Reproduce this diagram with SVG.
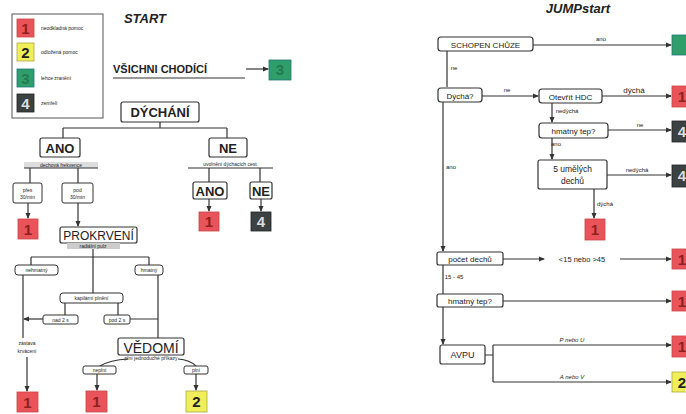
<svg xmlns="http://www.w3.org/2000/svg" width="686" height="414" viewBox="0 0 686 414">
<style>
text{font-family:"Liberation Sans",Arial,sans-serif;fill:#222}
.box{fill:#fff;stroke:#333;stroke-width:1.2}
.bx2{fill:#fff;stroke:#333;stroke-width:1}
.ln{fill:none;stroke:#333;stroke-width:1.2}
.arr{fill:none;stroke:#333;stroke-width:1.2;marker-end:url(#ah)}
.r{fill:#e8545a;stroke:#c44;stroke-width:0.8}
.y{fill:#f0ef5a;stroke:#aa4;stroke-width:0.8}
.g{fill:#2f9e6b;stroke:#277;stroke-width:0.8}
.d{fill:#3c4141;stroke:#222;stroke-width:0.8}
.n{font-size:15px;font-weight:bold;text-anchor:middle}
.nr{fill:#8e2020}
.ny{fill:#222}
.ng{fill:#237a50}
.nd{fill:#ddd}
.big{font-size:13px;font-weight:bold;text-anchor:middle}
.mid{font-size:7px;text-anchor:middle}
.sm{font-size:5px;text-anchor:middle}
.lg{font-size:5px}
.it{font-size:13px;font-style:italic;font-weight:bold;text-anchor:middle}
.lab{font-size:6px;text-anchor:middle}
</style>
<defs>
<marker id="ah" markerWidth="6" markerHeight="6" refX="5" refY="3" orient="auto" markerUnits="userSpaceOnUse">
<path d="M0,0.5 L6,3 L0,5.5 z" fill="#333"/>
</marker>
</defs>

<!-- Legend -->
<g id="legend">
<rect x="12" y="14" width="91" height="104" fill="#fff" stroke="#555" stroke-width="1"/>
<rect class="r" x="17" y="19" width="17" height="18"/><text class="n nr" x="25.5" y="34">1</text>
<text class="lg" x="41" y="30">neodkladná pomoc</text>
<rect class="y" x="17" y="43" width="17" height="18"/><text class="n ny" x="25.5" y="58">2</text>
<text class="lg" x="41" y="54">odložená pomoc</text>
<rect class="g" x="17" y="69" width="17" height="18"/><text class="n ng" x="25.5" y="84">3</text>
<text class="lg" x="41" y="80">lehce zranění</text>
<rect class="d" x="17" y="94" width="17" height="18"/><text class="n nd" x="25.5" y="109">4</text>
<text class="lg" x="41" y="105">zemřelí</text>
</g>

<g id="title-start"><text class="it" x="145" y="23">START</text></g>
<g id="title-jump"><text class="it" x="578" y="13">JUMPstart</text></g>

<!-- Connectors -->
<g id="connectors">
<!-- START -->
<line class="arr" x1="246" y1="69" x2="268" y2="69"/>
<path class="ln" d="M160,122 V128 M63,128 H227 M63,128 V138 M227,128 V138"/>
<path class="ln" d="M30,168 V183 M78,168 V183"/>
<line class="arr" x1="28" y1="203" x2="28" y2="218"/>
<line class="arr" x1="78" y1="203" x2="78" y2="226"/>
<path class="ln" d="M209,168 V182 M260,168 V182"/>
<line class="arr" x1="209" y1="199" x2="209" y2="211"/>
<line class="arr" x1="261" y1="199" x2="261" y2="211"/>
<path class="ln" d="M93,249 V293 M31,257 H149 M31,257 V265 M149,257 V265"/>
<path class="ln" d="M65,303 V315 M118,303 V315"/>
<path class="ln" d="M23,275 V338"/>
<line class="arr" x1="43" y1="319" x2="24" y2="319"/>
<path class="ln" d="M158,275 V338 M130,319 H158"/>
<line class="arr" x1="27" y1="357" x2="27" y2="391"/>
<path class="ln" d="M128,359 Q110,360 100,366 M178,359 Q190,360 196,366"/>
<line class="arr" x1="97" y1="374" x2="97" y2="390"/>
<line class="arr" x1="196" y1="374" x2="196" y2="390"/>
<!-- JUMPstart -->
<line class="arr" x1="533" y1="45" x2="671" y2="45"/>
<line class="ln" x1="447" y1="50" x2="447" y2="87"/>
<line class="arr" x1="482" y1="96" x2="538" y2="96"/>
<line class="arr" x1="602" y1="96" x2="671" y2="96"/>
<line class="arr" x1="552" y1="103" x2="552" y2="122"/>
<line class="arr" x1="608" y1="130" x2="671" y2="130"/>
<line class="arr" x1="552" y1="138" x2="552" y2="159"/>
<line class="arr" x1="607" y1="175" x2="671" y2="175"/>
<line class="arr" x1="594" y1="189" x2="594" y2="218"/>
<line class="arr" x1="443" y1="102" x2="443" y2="251"/>
<line class="arr" x1="503" y1="259" x2="544" y2="259"/>
<line class="arr" x1="620" y1="259" x2="671" y2="259"/>
<line class="ln" x1="443" y1="265" x2="443" y2="294"/>
<line class="arr" x1="503" y1="301" x2="671" y2="301"/>
<line class="arr" x1="443" y1="307" x2="443" y2="344"/>
<path class="ln" d="M485,355 H493 M493,345 V382"/>
<line class="arr" x1="493" y1="345" x2="671" y2="345"/>
<line class="arr" x1="493" y1="382" x2="671" y2="382"/>
</g>

<!-- START nodes -->
<g id="n-chodici">
<text x="113" y="73" font-size="11" font-weight="bold">VŠICHNI CHODÍCÍ</text>
<line class="ln" x1="113" y1="78" x2="245" y2="78"/>
</g>
<g id="n-green-top"><rect class="g" x="269" y="60" width="22" height="20"/><text class="n ng" x="280" y="75">3</text></g>
<g id="n-dychani"><rect class="box" x="121" y="102" width="78" height="20" rx="2"/><text class="big" x="160" y="117">DÝCHÁNÍ</text></g>
<g id="n-ano"><rect class="box" x="40" y="138" width="40" height="19" rx="2"/><text class="big" x="60" y="153">ANO</text></g>
<g id="n-frekvence"><rect x="24" y="162" width="74" height="6" fill="#ddd"/><text class="sm" x="61" y="167">dechová frekvence</text><line class="ln" x1="24" y1="168" x2="98" y2="168" stroke-width="0.8"/></g>
<g id="n-pres"><rect class="bx2" x="13" y="183" width="29" height="20" rx="2"/><text class="sm" x="27.5" y="192">přes</text><text class="sm" x="27.5" y="199">30/min</text></g>
<g id="n-pod"><rect class="bx2" x="62" y="183" width="31" height="20" rx="2"/><text class="sm" x="77.5" y="192">pod</text><text class="sm" x="77.5" y="199">30/min</text></g>
<g id="n-r1a"><rect class="r" x="18" y="219" width="20" height="20"/><text class="n nr" x="28" y="235">1</text></g>
<g id="n-ne"><rect class="box" x="209" y="138" width="38" height="19" rx="2"/><text class="big" x="228" y="153">NE</text></g>
<g id="n-uvolneni"><text class="sm" x="230" y="166">uvolnění dýchacích cest</text><line class="ln" x1="188" y1="168" x2="273" y2="168" stroke-width="0.8"/></g>
<g id="n-ano2"><rect class="box" x="193" y="182" width="34" height="17" rx="2"/><text class="big" x="210" y="196">ANO</text></g>
<g id="n-ne2"><rect class="box" x="250" y="182" width="22" height="17" rx="2"/><text class="big" x="261" y="196">NE</text></g>
<g id="n-r1b"><rect class="r" x="199" y="212" width="20" height="19"/><text class="n nr" x="209" y="227">1</text></g>
<g id="n-d4a"><rect class="d" x="251" y="212" width="20" height="19"/><text class="n nd" x="261" y="227">4</text></g>
<g id="n-prokrveni"><rect class="box" x="60" y="227" width="77" height="16" rx="2"/><text x="98.5" y="240" font-size="12" text-anchor="middle">PROKRVENÍ</text></g>
<g id="n-pulz"><rect x="67" y="243" width="53" height="6" fill="#ccc"/><text class="sm" x="93" y="248">radiální pulz</text></g>
<g id="n-nehmatny"><rect class="bx2" x="15" y="265" width="43" height="10" rx="3"/><text class="sm" x="36.5" y="272">nehmatný</text></g>
<g id="n-hmatny"><rect class="bx2" x="135" y="265" width="28" height="10" rx="3"/><text class="sm" x="149" y="272">hmatný</text></g>
<g id="n-kapilarni"><rect class="bx2" x="60" y="293" width="63" height="10" rx="3"/><text class="sm" x="91.5" y="300">kapilární plnění</text></g>
<g id="n-nad2"><rect class="bx2" x="43" y="315" width="35" height="9" rx="2"/><text class="sm" x="60.5" y="321.5">nad 2 s</text></g>
<g id="n-pod2"><rect class="bx2" x="104" y="315" width="26" height="9" rx="2"/><text class="sm" x="117" y="321.5">pod 2 s</text></g>
<g id="n-zastava"><text class="sm" x="27" y="345">zástava</text><text class="sm" x="27" y="353">krvácení</text></g>
<g id="n-r1c"><rect class="r" x="17" y="392" width="21" height="20"/><text class="n nr" x="27.5" y="408">1</text></g>
<g id="n-vedomi"><rect class="box" x="118" y="338" width="66" height="17" rx="2"/><text x="151" y="353" font-size="14" text-anchor="middle">VĚDOMÍ</text></g>
<g id="n-prikazy"><text class="sm" x="151" y="360">plní jednoduché příkazy</text></g>
<g id="n-neplni"><rect class="bx2" x="83" y="366" width="33" height="8" rx="2"/><text class="sm" x="99.5" y="372">neplní</text></g>
<g id="n-plni"><rect class="bx2" x="184" y="366" width="24" height="8" rx="2"/><text class="sm" x="196" y="372">plní</text></g>
<g id="n-r1d"><rect class="r" x="86" y="391" width="21" height="21"/><text class="n nr" x="96.5" y="407">1</text></g>
<g id="n-y2"><rect class="y" x="186" y="391" width="21" height="21"/><text class="n ny" x="196.5" y="407">2</text></g>

<!-- JUMPstart nodes -->
<g id="j-chuze"><rect class="box" x="438" y="37" width="95" height="14" rx="3"/><text x="485.5" y="47.5" font-size="8" text-anchor="middle">SCHOPEN CHŮZE</text></g>
<g id="j-g3"><rect class="g" x="672" y="35" width="20" height="20"/></g>
<g id="j-dycha"><rect class="box" x="438" y="88" width="44" height="14" rx="3"/><text x="460" y="98.5" font-size="8" text-anchor="middle">Dýchá?</text></g>
<g id="j-hdc"><rect class="box" x="539" y="89" width="63" height="14" rx="3"/><text x="570.5" y="99.5" font-size="8" text-anchor="middle">Otevřít HDC</text></g>
<g id="j-r1a"><rect class="r" x="672" y="86" width="20" height="21"/><text class="n nr" x="682" y="102">1</text></g>
<g id="j-tep1"><rect class="box" x="539" y="123" width="69" height="15" rx="3"/><text x="573.5" y="134" font-size="8" text-anchor="middle">hmatný tep?</text></g>
<g id="j-d4a"><rect class="d" x="672" y="121" width="20" height="21"/><text class="n nd" x="682" y="137">4</text></g>
<g id="j-dechy"><rect class="box" x="538" y="160" width="69" height="29" rx="2"/><text x="572.5" y="172" font-size="8.5" text-anchor="middle">5 umělých</text><text x="572.5" y="184" font-size="8.5" text-anchor="middle">dechů</text></g>
<g id="j-d4b"><rect class="d" x="672" y="165" width="20" height="22"/><text class="n nd" x="682" y="181">4</text></g>
<g id="j-r1b"><rect class="r" x="585" y="219" width="20" height="21"/><text class="n nr" x="595" y="235">1</text></g>
<g id="j-pocet"><rect class="box" x="437" y="252" width="66" height="13" rx="2"/><text x="470" y="262" font-size="8" text-anchor="middle">počet dechů</text></g>
<g id="j-r1c"><rect class="r" x="672" y="249" width="20" height="20"/><text class="n nr" x="682" y="265">1</text></g>
<g id="j-tep2"><rect class="box" x="437" y="294" width="66" height="13" rx="2"/><text x="470" y="304" font-size="8" text-anchor="middle">hmatný tep?</text></g>
<g id="j-r1d"><rect class="r" x="672" y="291" width="20" height="20"/><text class="n nr" x="682" y="307">1</text></g>
<g id="j-avpu"><rect class="box" x="440" y="345" width="45" height="19" rx="2"/><text x="462.5" y="358" font-size="9" text-anchor="middle">AVPU</text></g>
<g id="j-r1e"><rect class="r" x="672" y="336" width="20" height="21"/><text class="n nr" x="682" y="352">1</text></g>
<g id="j-y2"><rect class="y" x="672" y="372" width="20" height="20"/><text class="n ny" x="682" y="388">2</text></g>

<!-- JUMPstart labels -->
<g id="j-labels">
<text class="lab" x="601" y="41">ano</text>
<text class="lab" x="454" y="70">ne</text>
<text class="lab" x="507" y="92">ne</text>
<text x="634" y="93" font-size="8" text-anchor="middle">dýchá</text>
<text class="lab" x="567" y="113" font-size="5">nedýchá</text>
<text class="lab" x="640" y="127">ne</text>
<text class="lab" x="556" y="146">ano</text>
<text class="lab" x="637" y="172">nedýchá</text>
<text class="lab" x="605" y="206">dýchá</text>
<text class="lab" x="451" y="169">ano</text>
<text x="582" y="262" font-size="7.5" text-anchor="middle">&lt;15 nebo &gt;45</text>
<text class="lab" x="454" y="279">15 - 45</text>
<text class="lab" x="572" y="342" font-style="italic">P nebo U</text>
<text class="lab" x="572" y="379" font-style="italic">A nebo V</text>
</g>
</svg>
